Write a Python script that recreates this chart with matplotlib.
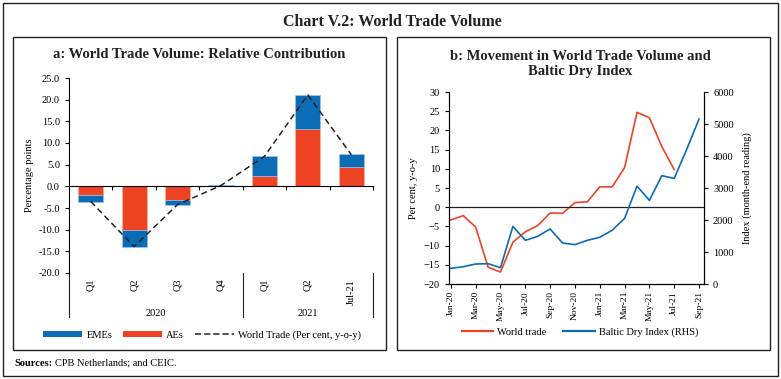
import numpy as np
import matplotlib
matplotlib.use("Agg")
import matplotlib.pyplot as plt
from matplotlib.patches import Rectangle, Patch
from matplotlib.lines import Line2D

plt.rcParams["font.family"] = ["Liberation Serif", "DejaVu Serif"]

AZUL = "#0B6CB5"
VERMELHO = "#EE4423"

# Painel a: contribuição relativa (pontos percentuais)
categorias = ["Q1", "Q2", "Q3", "Q4", "Q1", "Q2", "Jul-21"]
anos = ["2020", "2021"]
aes = [-2.0, -10.0, -3.1, 0.0, 2.4, 13.3, 4.4]
emes = [-1.5, -3.9, -1.1, 0.2, 4.5, 7.8, 3.1]
comercio_mundial_trim = [-3.5, -13.9, -4.2, 0.2, 6.9, 21.1, 7.3]

# Painel b: comércio mundial (% a/a) e Baltic Dry Index
meses = ["Jan-20", "Feb-20", "Mar-20", "Apr-20", "May-20", "Jun-20", "Jul-20",
         "Aug-20", "Sep-20", "Oct-20", "Nov-20", "Dec-20", "Jan-21", "Feb-21",
         "Mar-21", "Apr-21", "May-21", "Jun-21", "Jul-21", "Aug-21", "Sep-21"]
comercio_mundial = [-3.3, -2.2, -5.2, -15.6, -16.9, -9.1, -6.4, -4.8, -1.5, -1.6,
                    1.2, 1.4, 5.3, 5.3, 10.3, 24.7, 23.3, 15.8, 9.8]
baltic = [490, 540, 625, 635, 510, 1800, 1365, 1490, 1720, 1280, 1230, 1365,
          1460, 1680, 2050, 3060, 2615, 3385, 3300, 4200, 5155]

W, H = 781, 379


def caixa(fig, x0, y0, x1, y1, lw=1.0):
    fig.add_artist(Rectangle((x0 / W, 1 - y1 / H), (x1 - x0) / W, (y1 - y0) / H,
                             transform=fig.transFigure, fill=False,
                             edgecolor="#222222", linewidth=lw))


fig = plt.figure(figsize=(W / 100, H / 100), dpi=100)

caixa(fig, 3, 3, 778, 376)
caixa(fig, 13, 37, 386, 350)
caixa(fig, 397, 37, 770, 350)

fig.text(392 / W, 1 - 22 / H, "Chart V.2: World Trade Volume", ha="center", va="center",
         fontsize=11.5, fontweight="bold", color="#222222")
t_fonte = fig.text(14 / W, 1 - 363 / H, "Sources:", ha="left", va="center",
                   fontsize=7.5, fontweight="bold")
fig.canvas.draw()
bb = t_fonte.get_window_extent()
fig.text((bb.x1 + 3) / W, 1 - 363 / H, "CPB Netherlands; and CEIC.", ha="left",
         va="center", fontsize=7.5)

# ---------------- painel a ----------------
ax1 = fig.add_axes([69 / W, 1 - 273 / H, 304 / W, 195 / H])
x = np.arange(len(categorias))
ax1.bar(x, aes, width=0.58, color=VERMELHO, edgecolor="#f4b9a8", linewidth=0.4)
ax1.bar(x, emes, width=0.58, bottom=aes, color=AZUL, edgecolor="#a9c8e8", linewidth=0.4)
ax1.plot(x, comercio_mundial_trim, color="#222222", linestyle=(0, (4, 2.5)), linewidth=1.1)

ax1.set_ylim(-20, 25)
ax1.set_xlim(-0.5, len(categorias) - 0.5)
ax1.set_yticks(np.arange(-20, 26, 5))
ax1.set_yticklabels([f"{v:.1f}" for v in np.arange(-20, 26, 5)], fontsize=7.5)
ax1.set_ylabel("Percentage points", fontsize=7.5, labelpad=3)
for lado in ["top", "right"]:
    ax1.spines[lado].set_visible(False)
ax1.spines["bottom"].set_position(("data", 0))
ax1.set_xticks(np.arange(-0.5, len(categorias), 1.0))
ax1.set_xticklabels([])
ax1.tick_params(axis="x", direction="out", length=3)
ax1.tick_params(axis="y", direction="out", length=3)

trans = ax1.get_xaxis_transform()
for i, rot in enumerate(categorias):
    ax1.text(i, -0.03, rot, rotation=90, ha="center", va="top", fontsize=7.5, transform=trans)
for xs in [-0.5, 3.5, 6.5]:
    ax1.plot([xs, xs], [0, -0.225], color="#222222", linewidth=0.8, transform=trans, clip_on=False)
ax1.text(1.5, -0.21, anos[0], ha="center", va="center", fontsize=7.5, transform=trans)
ax1.text(5.0, -0.21, anos[1], ha="center", va="center", fontsize=7.5, transform=trans)

fig.text(199 / W, 1 - 55 / H, "a: World Trade Volume: Relative Contribution",
         ha="center", va="center", fontsize=10.5, fontweight="bold", color="#222222")

leg1 = [Patch(facecolor=AZUL, label="EMEs"),
        Patch(facecolor=VERMELHO, label="AEs"),
        Line2D([0], [0], color="#222222", linestyle=(0, (4, 2)), linewidth=1.1,
               label="World Trade (Per cent, y-o-y)")]
fig.legend(handles=leg1, loc="center", bbox_to_anchor=(202 / W, 1 - 335 / H), ncol=3,
           frameon=False, fontsize=7.5, handlelength=3.8, handleheight=0.6,
           columnspacing=1.0, handletextpad=0.4)

# ---------------- painel b ----------------
ax2 = fig.add_axes([449 / W, 1 - 284 / H, 255 / W, 192 / H])
ax2.plot(np.arange(len(comercio_mundial)), comercio_mundial, color=VERMELHO, linewidth=1.2)
ax2.set_ylim(-20, 30)
ax2.set_yticks(np.arange(-20, 31, 5))
ax2.tick_params(axis="y", labelsize=7.5, direction="out", length=3)
ax2.set_ylabel("Per cent, y-o-y", fontsize=7.5, labelpad=4)
ax2.axhline(0, color="#222222", linewidth=0.9)
ax2.set_xlim(-0.15, len(meses) - 1 + 0.4)
ax2.set_xticks(np.arange(0, len(meses), 2))
ax2.set_xticklabels(meses[::2], rotation=90, fontsize=6.8)
ax2.tick_params(axis="x", direction="out", length=3, pad=2)
ax2.spines["top"].set_visible(False)

ax3 = ax2.twinx()
ax3.plot(np.arange(len(baltic)), baltic, color=AZUL, linewidth=1.2)
ax3.set_ylim(0, 6000)
ax3.set_yticks(np.arange(0, 6001, 1000))
ax3.tick_params(axis="y", labelsize=7.5, direction="out", length=3)
ax3.set_ylabel("Index (month-end reading)", fontsize=7.5, labelpad=6)
ax3.spines["top"].set_visible(False)

fig.text(580 / W, 1 - 64 / H, "b: Movement in World Trade Volume and\nBaltic Dry Index",
         ha="center", va="center", fontsize=10.5, fontweight="bold", color="#222222",
         linespacing=1.25)

leg2 = [Line2D([0], [0], color=VERMELHO, linewidth=1.6, label="World trade"),
        Line2D([0], [0], color=AZUL, linewidth=1.6, label="Baltic Dry Index (RHS)")]
fig.legend(handles=leg2, loc="center", bbox_to_anchor=(580 / W, 1 - 332 / H), ncol=2,
           frameon=False, fontsize=7.5, handlelength=3.0, columnspacing=1.6,
           handletextpad=0.4)

fig.savefig("out.png", dpi=100)
